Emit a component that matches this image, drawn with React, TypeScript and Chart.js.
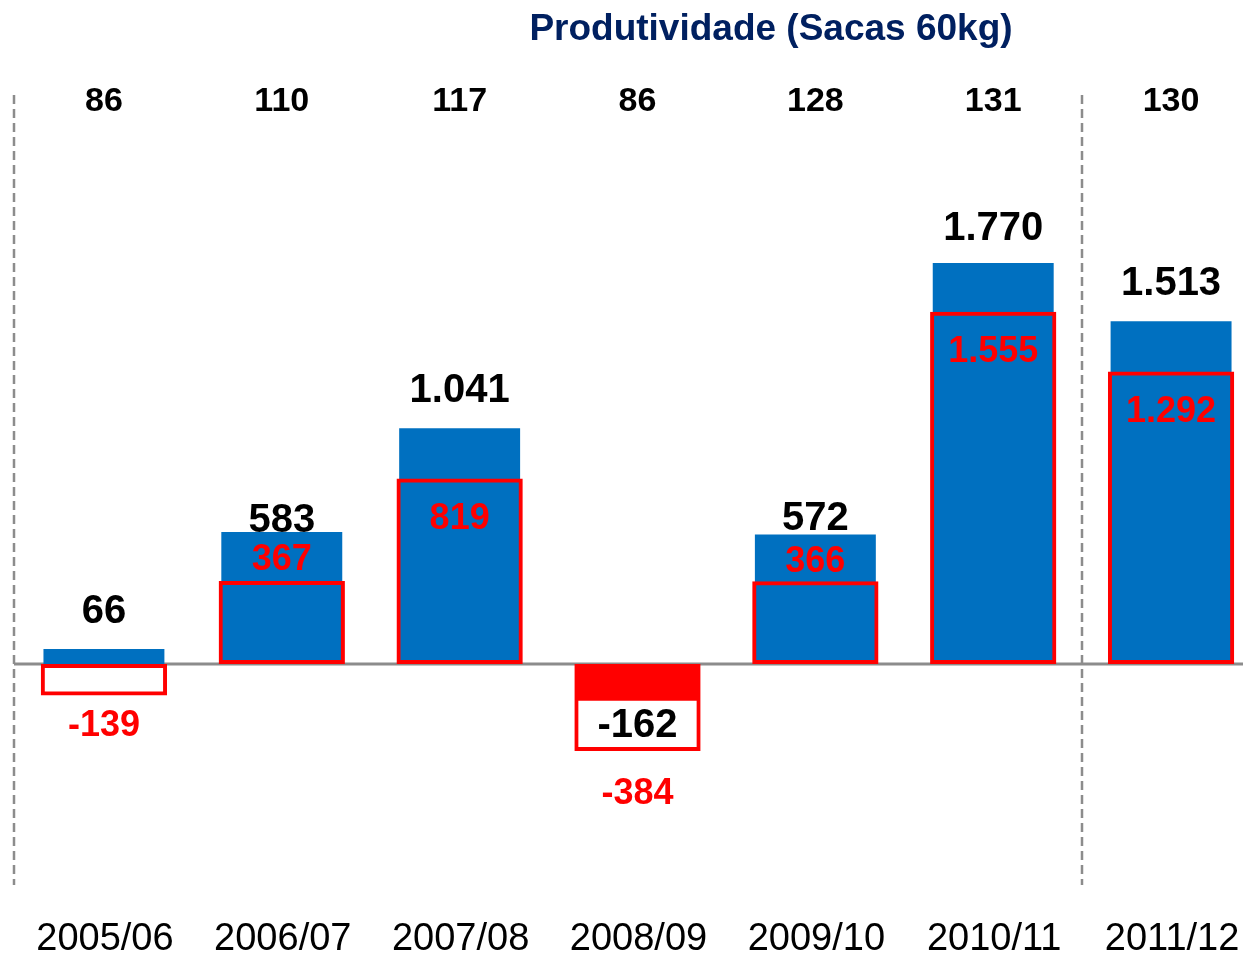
import React, { useEffect, useRef } from "react";
import { Chart, registerables } from "chart.js";

Chart.register(...registerables);

const categories = ["2005/06", "2006/07", "2007/08", "2008/09", "2009/10", "2010/11", "2011/12"];
const resultValues = [66, 583, 1041, -162, 572, 1770, 1513];
const adjustedValues = [-139, 367, 819, -384, 366, 1555, 1292];
const productivity = [86, 110, 117, 86, 128, 131, 130];
const titleText = "Produtividade (Sacas 60kg)";

// label pixel offsets from bar ends (layout only)
const resultLabelDy = [-37, -11, -37, 25, -16, -34, -37];
const adjustedLabelDy = [31, -21, 41, 43, -19, 40, 41];

const BLUE = "#0070C0";
const RED = "#FF0000";
const NAVY = "#002060";
const FONT = "'Liberation Sans', Arial, sans-serif";

function fmt(v: number): string {
  const s = Math.abs(Math.round(v)).toString().replace(/\B(?=(\d{3})+(?!\d))/g, ".");
  return (v < 0 ? "-" : "") + s;
}

const overlayPlugin = {
  id: "overlay",
  beforeDatasetsDraw(chart: any) {
    const { ctx, scales } = chart;
    const x = scales.x;
    const y = scales.y;
    const step = x.getPixelForValue(1) - x.getPixelForValue(0);
    ctx.save();
    ctx.strokeStyle = "#8C8C8C";
    ctx.lineWidth = 2.5;
    ctx.setLineDash([9, 5]);
    const seps = [x.getPixelForValue(0) - step / 2 - 1, x.getPixelForValue(5) + step / 2];
    seps.forEach((px) => {
      ctx.beginPath();
      ctx.moveTo(Math.round(px), 95);
      ctx.lineTo(Math.round(px), 885);
      ctx.stroke();
    });
    ctx.setLineDash([]);
    const y0 = y.getPixelForValue(0);
    ctx.strokeStyle = "#8C8C8C";
    ctx.lineWidth = 3;
    ctx.beginPath();
    ctx.moveTo(seps[0], y0);
    ctx.lineTo(chart.width, y0);
    ctx.stroke();
    ctx.restore();
  },
  afterDatasetsDraw(chart: any) {
    const { ctx, scales } = chart;
    const x = scales.x;
    ctx.save();
    ctx.textAlign = "center";
    ctx.textBaseline = "middle";
    const m0 = chart.getDatasetMeta(0);
    const m1 = chart.getDatasetMeta(1);
    m0.data.forEach((el: any, i: number) => {
      ctx.font = `bold 40px ${FONT}`;
      ctx.fillStyle = "#000000";
      ctx.fillText(fmt(resultValues[i]), el.x, el.y + resultLabelDy[i]);
    });
    m1.data.forEach((el: any, i: number) => {
      ctx.font = `bold 36px ${FONT}`;
      ctx.fillStyle = RED;
      ctx.fillText(fmt(adjustedValues[i]), el.x, el.y + adjustedLabelDy[i]);
    });
    ctx.font = `bold 37px ${FONT}`;
    ctx.fillStyle = NAVY;
    ctx.fillText(titleText, 771, 30);
    ctx.font = `bold 34px ${FONT}`;
    ctx.fillStyle = "#000000";
    productivity.forEach((p, i) => {
      ctx.fillText(String(p), x.getPixelForValue(i), 102);
    });
    ctx.font = `38px ${FONT}`;
    categories.forEach((c, i) => {
      ctx.fillText(c, x.getPixelForValue(i) + 1, 940);
    });
    ctx.restore();
  },
};

export default function App() {
  const ref = useRef<HTMLCanvasElement>(null);
  useEffect(() => {
    if (!ref.current) return;
    const chart = new Chart(ref.current, {
      type: "bar",
      data: {
        labels: categories,
        datasets: [
          {
            label: "Resultado",
            data: resultValues,
            backgroundColor: resultValues.map((_, i) => (i === 3 ? RED : BLUE)),
            borderWidth: 0,
            barPercentage: 0.68,
            categoryPercentage: 1,
            order: 2,
          },
          {
            label: "Ajustado",
            data: adjustedValues,
            backgroundColor: "rgba(0,0,0,0)",
            borderColor: RED,
            borderWidth: 4,
            borderSkipped: false,
            barPercentage: 0.71,
            categoryPercentage: 1,
            order: 1,
          },
        ],
      },
      options: {
        responsive: false,
        animation: false,
        layout: { padding: { left: 15, right: 0, top: 100, bottom: 100 } },
        plugins: { legend: { display: false }, tooltip: { enabled: false }, title: { display: false } },
        datasets: { bar: { grouped: false } } as any,
        scales: {
          x: { display: false, offset: true, grid: { display: false } },
          y: { display: false, min: -834, max: 2490, grid: { display: false } },
        },
      },
      plugins: [overlayPlugin],
    });
    return () => chart.destroy();
  }, []);
  return (
    <div style={{ position: "fixed", left: 0, top: 0, width: 1243, height: 953, overflow: "hidden", background: "#fff" }}>
      <canvas ref={ref} width={1260} height={953} style={{ display: "block" }} />
    </div>
  );
}
